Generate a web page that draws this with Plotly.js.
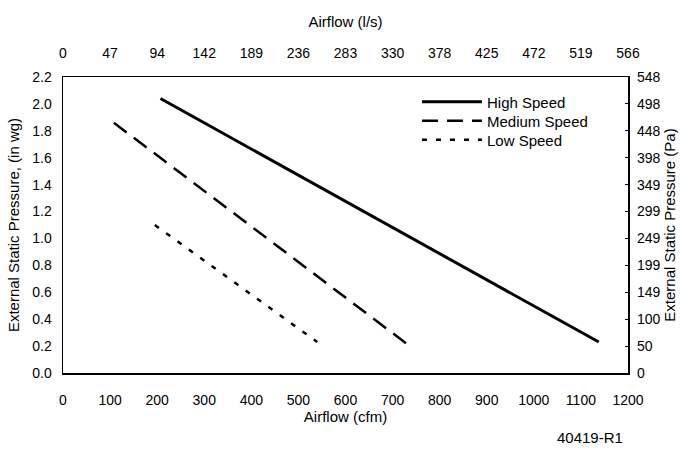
<!DOCTYPE html>
<html>
<head>
<meta charset="utf-8">
<script src="https://cdn.plot.ly/plotly-3.0.1.min.js"></script>
<style>html,body{margin:0;padding:0;background:#fff;}#chart{width:682px;height:449px;}</style>
</head>
<body>
<div id="chart"></div>
<script>
// Airflow (cfm) and External Static Pressure (in wg) end points
var highCfm = [207, 1138];
var highEsp = [2.04, 0.23];
var medCfm = [108, 729];
var medEsp = [1.86, 0.22];
var lowCfm = [195, 540];
var lowEsp = [1.10, 0.23];

var cfmTicks = [0, 100, 200, 300, 400, 500, 600, 700, 800, 900, 1000, 1100, 1200];
var lsLabels = ['0', '47', '94', '142', '189', '236', '283', '330', '378', '425', '472', '519', '566'];
var inwgTicks = [0, 0.2, 0.4, 0.6, 0.8, 1.0, 1.2, 1.4, 1.6, 1.8, 2.0, 2.2];
var paLabels = ['0', '50', '100', '149', '199', '249', '299', '349', '398', '448', '498', '548'];

var FONT = 'Liberation Sans, Arial, sans-serif';

var traces = [
  {x: highCfm, y: highEsp, mode: 'lines', name: 'High Speed', legend: 'legend',
   line: {color: '#000', width: 3}},
  {x: medCfm, y: medEsp, mode: 'lines', name: 'Medium Speed', legend: 'legend2',
   line: {color: '#000', width: 2.5, dash: '16px,9px'}},
  {x: lowCfm, y: lowEsp, mode: 'lines', name: 'Low Speed', legend: 'legend3',
   line: {color: '#000', width: 2.5, dash: '5px,9px'}},
  {x: [cfmTicks[0]], y: [inwgTicks[0]], xaxis: 'x2', yaxis: 'y2', mode: 'markers',
   marker: {opacity: 0}, showlegend: false, hoverinfo: 'skip'}
];

function leg(yc) {
  return {x: 0.6265, y: yc, xanchor: 'left', yanchor: 'middle', bgcolor: 'rgba(0,0,0,0)',
          font: {family: FONT, size: 15}, itemwidth: 60};
}

var layout = {
  width: 682, height: 449,
  margin: {l: 63, r: 54, t: 77, b: 76},
  paper_bgcolor: '#fff', plot_bgcolor: '#fff',
  font: {family: FONT, size: 14, color: '#000'},
  showlegend: true,
  legend: leg(0.9155),
  legend2: leg(0.851),
  legend3: leg(0.787),
  xaxis: {range: [0, 1200], tickvals: cfmTicks, showgrid: false, zeroline: false,
          showline: true, linecolor: '#000', linewidth: 1.5, mirror: true, ticks: '',
          ticklabelstandoff: 14, tickfont: {size: 14},
          title: {text: 'Airflow (cfm)', font: {size: 15}, standoff: 4}},
  yaxis: {range: [0, 2.2], tickvals: inwgTicks, tickformat: '.1f', showgrid: false, zeroline: false,
          showline: true, linecolor: '#000', linewidth: 1.5, mirror: true, ticks: '',
          ticklabelstandoff: 7, tickfont: {size: 14},
          title: {text: 'External Static Pressure, (in wg)', font: {size: 15}, standoff: 9}},
  xaxis2: {overlaying: 'x', side: 'top', range: [0, 1200], tickvals: cfmTicks, ticktext: lsLabels,
           showgrid: false, zeroline: false, showline: false, ticks: '',
           ticklabelstandoff: 15, tickfont: {size: 14},
           title: {text: 'Airflow (l/s)', font: {size: 15}, standoff: 13}},
  yaxis2: {overlaying: 'y', side: 'right', range: [0, 2.2], tickvals: inwgTicks, ticktext: paLabels,
           showgrid: false, zeroline: false, showline: false, ticks: 'inside', ticklen: 3,
           tickcolor: '#000', ticklabelstandoff: 8, tickfont: {size: 14},
           title: {text: 'External Static Pressure (Pa)', font: {size: 15}, standoff: 4}},
  annotations: [
    {text: '40419-R1', xref: 'paper', yref: 'paper', x: 0.933, y: -0.219, xanchor: 'center', yanchor: 'middle',
     showarrow: false, font: {family: FONT, size: 15}}
  ]
};

Plotly.newPlot('chart', traces, layout, {displayModeBar: false, staticPlot: true});
</script>
</body>
</html>
